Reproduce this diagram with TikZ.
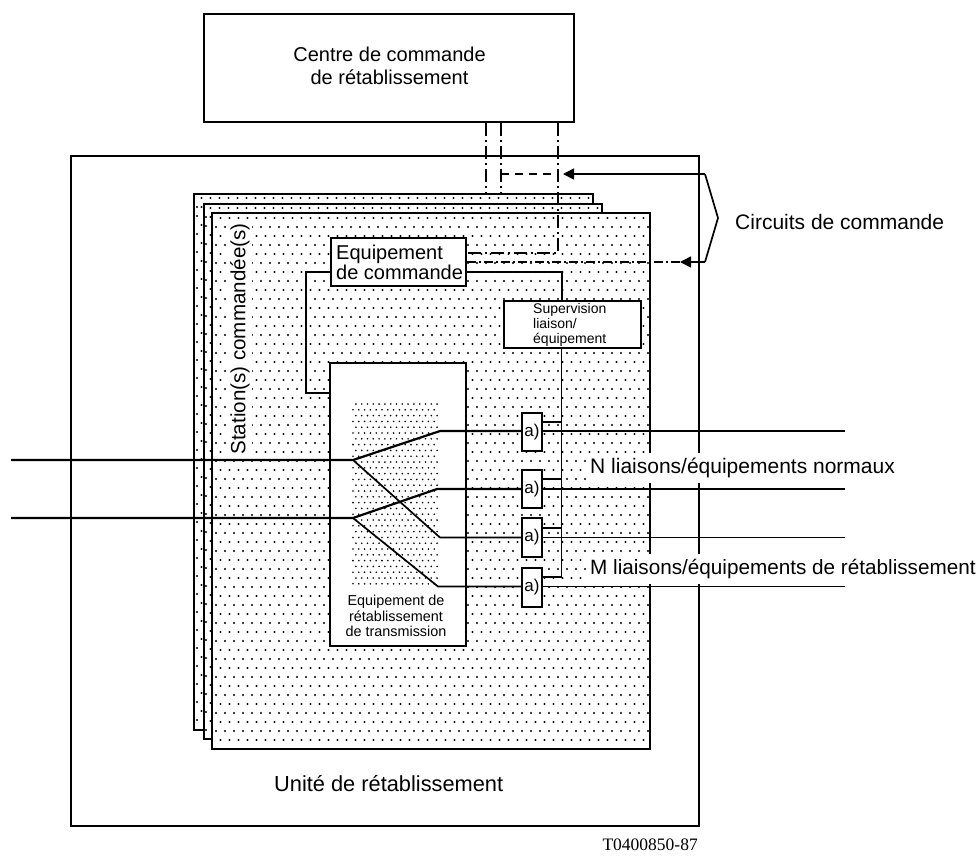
\documentclass[tikz,border=0pt]{standalone}
\usepackage{fontspec}
\setmainfont{Liberation Sans}
\newfontfamily\serifcode{Liberation Serif}
\usetikzlibrary{arrows.meta,calc}
\tikzset{
  panel/.style={draw=black,line width=2.1pt,fill=white,inner sep=0pt,align=center},
  sheet/.style={draw=black,line width=2.1pt,fill=white,inner sep=0pt},
  frame/.style={draw=black,line width=2.1pt,inner sep=0pt},
  wire/.style={draw=black,line width=2.2pt},
  thinwire/.style={draw=black,line width=1.7pt},
  ctrl/.style={draw=black,line width=2pt,dash pattern=on 13pt off 4pt on 2pt off 4pt},
  ctrltwo/.style={draw=black,line width=1.9pt,dash pattern=on 9pt off 3pt on 2pt off 3pt},
  dashline/.style={draw=black,line width=1.8pt,dash pattern=on 8pt off 6pt},
  pointer/.style={draw=black,line width=1.7pt,-{Triangle[length=11pt,width=11pt]}},
  brace/.style={draw=black,line width=1.7pt},
  bigtext/.style={font=\fontsize{20}{22}\selectfont,inner sep=0pt,align=center},
  midtext/.style={font=\fontsize{14.4}{15.4}\selectfont,inner sep=0pt,align=center},
  blanklabel/.style={fill=white,inner xsep=3pt,inner ysep=5pt,anchor=west}
}
\newcommand{\dotfield}[6]{%
  \pgfmathsetmacro{\dyy}{#5}%
  \pgfmathsetmacro{\ysec}{#2+\dyy}%
  \foreach \yy [count=\ii] in {#2,\ysec,...,#4}{%
    \pgfmathsetmacro{\xfir}{#1+mod(\ii,2)*#5/2}%
    \pgfmathsetmacro{\xsec}{\xfir+#5}%
    \foreach \xx in {\xfir,\xsec,...,#3}{\fill[black] (\xx,\yy) circle (#6);}%
  }%
}
\begin{document}
\begin{tikzpicture}[x=1pt,y=-1pt]
\useasboundingbox (0,0) rectangle (976,855);
\fill[white] (0,0) rectangle (976,855);

% outer unit and control centre
\node[frame,minimum width=628pt,minimum height=670pt] (unit) at (385,491) {};
\node[panel,minimum width=370pt,minimum height=108pt] (centre) at (389,68) {};
\node[bigtext] (centretext) at (389.5,66) {Centre de commande\\[1pt]de rétablissement};

% stacked sheets
\node[sheet,minimum width=399pt,minimum height=536pt] (sheetone) at (393.5,462) {};
\dotfield{197}{198}{590}{203}{9}{1.1pt}
\dotfield{197}{207}{203}{727}{9}{1.1pt}
\node[sheet,minimum width=398pt,minimum height=535pt] (sheettwo) at (403,471.5) {};
\dotfield{206}{208}{600}{212}{9}{1.1pt}
\dotfield{206}{217}{211}{736}{9}{1.1pt}
\node[sheet,minimum width=438pt,minimum height=536pt] (sheetthree) at (431,481) {};
\dotfield{216}{218}{648}{746}{9}{1.1pt}

\node[font=\fontsize{20.6}{22}\selectfont,fill=white,inner xsep=0pt,inner ysep=2pt,rotate=90] (station) at (240,339) {Station(s) commandée(s)};

% equipment boxes
\node[panel,minimum width=135pt,minimum height=48pt] (eq) at (398.5,262) {};
\node[font=\fontsize{20}{20}\selectfont,inner sep=0pt,align=left,anchor=west] (eqtext) at (336,262) {Equipement\\de commande};
\node[panel,minimum width=137pt,minimum height=47pt] (sup) at (572.5,324.5) {};
\node[font=\fontsize{14}{15}\selectfont,inner sep=0pt,align=left,anchor=west] (suptext) at (533,325) {Supervision\\liaison/\\équipement};
\node[panel,minimum width=136pt,minimum height=283pt] (inner) at (398,504.5) {};
\dotfield{353}{404}{439}{587}{5.8}{0.9pt}
\node[midtext] (innertext) at (396,616) {Equipement de\\rétablissement\\de transmission};

% anchors of the connectors
\coordinate (inone) at (11,460);
\coordinate (intwo) at (11,518);
\coordinate (fork1) at (353,460);
\coordinate (fork2) at (353,518);
\coordinate (b1) at (440,431);
\coordinate (b2) at (437,489);
\coordinate (b3) at (440,537.5);
\coordinate (b4) at (438,586.5);
\coordinate (r1) at (845,431);
\coordinate (r2) at (845,489);
\coordinate (r3) at (845,537.5);
\coordinate (r4) at (845,586.5);
\coordinate (bus) at (561.5,348);
\coordinate (tipone) at (563,174);
\coordinate (tiptwo) at (680,262);
\coordinate (brtop) at (705,174);
\coordinate (brmid) at (718,218);
\coordinate (brbot) at (705,262);

% a) boxes
\node[panel,font=\fontsize{17}{17}\selectfont,minimum width=20pt,minimum height=38pt] (a1) at (532,432) {a)};
\node[panel,font=\fontsize{17}{17}\selectfont,minimum width=20pt,minimum height=38pt] (a2) at (532,489) {a)};
\node[panel,font=\fontsize{17}{17}\selectfont,minimum width=20pt,minimum height=39pt] (a3) at (532,537.5) {a)};
\node[panel,font=\fontsize{17}{17}\selectfont,minimum width=20pt,minimum height=39pt] (a4) at (532,587.5) {a)};

% transmission lines
\draw[wire] (inone) -- (fork1) -- (b1) -- (a1.west |- b1);
\draw[wire] (a1.east |- r1) -- (r1);
\draw[wire] (intwo) -- (fork2) -- (b2) -- (a2.west |- b2);
\draw[wire] (a2.east |- r2) -- (r2);
\draw[thinwire] (fork1) -- (b3) -- (a3.west |- b3);
\draw[thinwire] (a3.east |- r3) -- (r3);
\draw[thinwire] (fork2) -- (b4) -- (a4.west |- b4);
\draw[thinwire] (a4.east |- r4) -- (r4);

% supervision links
\path (a1.east) ++(0,-10) coordinate (s1);
\path (a2.east) ++(0,-10) coordinate (s2);
\path (a3.east) ++(0,-9.5) coordinate (s3);
\path (a4.east) ++(0,-10.5) coordinate (s4);
\draw[thinwire] (sup.south -| bus) -- (s4 -| bus) -- (s4);
\draw[thinwire] (s1) -- (s1 -| bus);
\draw[thinwire] (s2) -- (s2 -| bus);
\draw[thinwire] (s3) -- (s3 -| bus);

% equipment wiring
\coordinate (eqleft) at (306,272);
\coordinate (innerleft) at (306,393);
\coordinate (eqright) at (562,272);
\draw[wire] (eq.west |- eqleft) -- (eqleft) -- (innerleft) -- (inner.west |- innerleft);
\draw[wire] (eq.east |- eqright) -- (eqright) -- (sup.north -| eqright);

% command circuits
\coordinate (cone) at (486,194);
\coordinate (ctwo) at (501,194);
\coordinate (cthree) at (558,253);
\draw[ctrl] (centre.south -| cone) -- (sheetone.north -| cone);
\draw[ctrl] (centre.south -| ctwo) -- (sheetone.north -| ctwo);
\draw[ctrl] (centre.south -| cthree) -- (cthree) -- (eq.east |- cthree);
\draw[ctrltwo] (eq.east |- tiptwo) -- (tiptwo);
\draw[dashline] (tipone -| ctwo) -- (cthree |- tipone);
\draw[pointer] (brtop) -- (tipone);
\draw[pointer] (brbot) -- (tiptwo);
\draw[brace] (brtop) -- (brmid) -- (brbot);

% labels
\node[blanklabel,font=\fontsize{21}{22}\selectfont] (nlabel) at (587,468) {N liaisons/équipements normaux};
\node[blanklabel,font=\fontsize{20.7}{22}\selectfont] (mlabel) at (587,569) {M liaisons/équipements de rétablissement};
\node[font=\fontsize{21}{22}\selectfont,inner sep=0pt,anchor=west] (circ) at (735,222) {Circuits de commande};
\node[font=\fontsize{21.8}{22}\selectfont,inner sep=0pt,anchor=west] (unite) at (274,784) {Unité de rétablissement};
\node[font=\serifcode\fontsize{17.5}{17.5}\selectfont,inner sep=0pt,anchor=east] (code) at (698,845) {T0400850-87};
\end{tikzpicture}
\end{document}
